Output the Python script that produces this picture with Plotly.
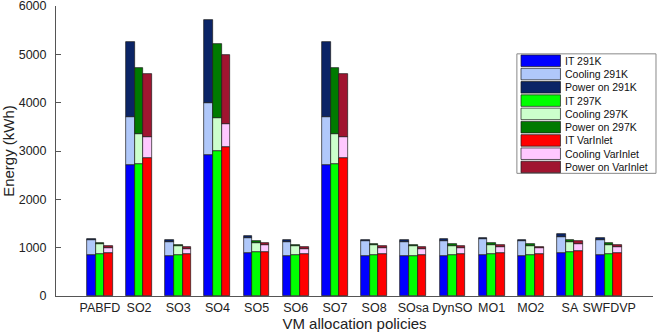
import numpy as np
import plotly.graph_objects as go

# VM allocation policies (x categories)
policies = ["PABFD", "SO2", "SO3", "SO4", "SO5", "SO6", "SO7", "SO8",
            "SOsa", "DynSO", "MO1", "MO2", "SA", "SWFDVP"]

# Energy components (kWh) for each inlet temperature setting
it_291 = [842, 2706, 828, 2926, 883, 828, 2706, 828, 821, 828, 855, 828, 897, 849]
cooling_291 = [311, 1000, 296, 1077, 311, 296, 1000, 304, 303, 311, 318, 311, 331, 310]
poweron_291 = [33, 1546, 35, 1718, 55, 35, 1546, 34, 35, 34, 35, 27, 62, 35]

it_297 = [876, 2740, 842, 2995, 911, 842, 2740, 849, 835, 842, 869, 842, 918, 869]
cooling_297 = [194, 621, 186, 683, 186, 186, 621, 200, 200, 200, 193, 200, 193, 193]
poweron_297 = [27, 1353, 34, 1533, 42, 34, 1353, 28, 27, 28, 35, 28, 55, 35]

it_var = [890, 2857, 869, 3085, 918, 862, 2857, 869, 855, 869, 890, 869, 932, 890]
cooling_var = [110, 428, 111, 469, 131, 118, 428, 125, 125, 125, 124, 125, 138, 124]
poweron_var = [41, 1311, 34, 1436, 41, 34, 1311, 34, 34, 34, 42, 27, 62, 42]

# (label, values, group index, colour)
series = [
    ("IT 291K", it_291, 0, "#0000FF"),
    ("Cooling 291K", cooling_291, 0, "#B0C8FA"),
    ("Power on 291K", poweron_291, 0, "#0B2466"),
    ("IT 297K", it_297, 1, "#00FF00"),
    ("Cooling 297K", cooling_297, 1, "#CCFFCC"),
    ("Power on 297K", poweron_297, 1, "#007A00"),
    ("IT VarInlet", it_var, 2, "#FF0000"),
    ("Cooling VarInlet", cooling_var, 2, "#FFC8FF"),
    ("Power on VarInlet", poweron_var, 2, "#A01530"),
]

bar_w = 0.22
idx = np.arange(len(policies))

fig = go.Figure()
for name, vals, grp, col in series:
    fig.add_trace(go.Bar(
        x=idx + (grp - 1) * bar_w,
        y=vals,
        width=bar_w,
        name=name,
        marker=dict(color=col, line=dict(color="#1a1a1a", width=0.7)),
        showlegend=False,
    ))

# hand-made legend box (MATLAB style, wide swatches)
lg_x0, lg_x1, lg_top, lg_bot = 0.772, 1.005, 0.835, 0.423
row_h = (lg_top - lg_bot) / len(series)
shapes = [dict(type="rect", xref="paper", yref="paper", x0=lg_x0, x1=lg_x1,
               y0=lg_bot, y1=lg_top, line=dict(color="#888888", width=1),
               fillcolor="white", layer="above")]
annotations = []
for k, (name, vals, grp, col) in enumerate(series):
    yt = lg_top - k * row_h - 0.004
    yb = yt - row_h + 0.006
    shapes.append(dict(type="rect", xref="paper", yref="paper", x0=0.7789, x1=0.845,
                       y0=yb, y1=yt, fillcolor=col,
                       line=dict(color="#1a1a1a", width=0.7), layer="above"))
    annotations.append(dict(xref="paper", yref="paper", x=0.849, y=(yt + yb) / 2,
                            text=name, showarrow=False, xanchor="left", yanchor="middle",
                            font=dict(size=10.5, color="#111111")))

fig.update_layout(
    width=664, height=334,
    barmode="relative",
    bargap=0,
    plot_bgcolor="white",
    paper_bgcolor="white",
    margin=dict(l=56, r=11, t=6, b=38),
    font=dict(family="Liberation Sans, Arial, sans-serif", size=12.5, color="#222222"),
    shapes=shapes,
    annotations=annotations,
    xaxis=dict(
        range=[-1.12, 13 + 1.12],
        tickvals=idx.tolist(),
        ticktext=policies,
        ticks="",
        showgrid=False,
        zeroline=False,
        showline=True,
        linecolor="#555555",
        linewidth=1,
        automargin=False,
        title=dict(text="VM allocation policies", standoff=4),
    ),
    yaxis=dict(
        range=[0, 6000.5],
        tickvals=[0, 1000, 2000, 3000, 4000, 5000, 6000],
        ticks="inside",
        ticklen=5,
        tickcolor="#555555",
        showgrid=False,
        zeroline=False,
        showline=True,
        linecolor="#555555",
        linewidth=1,
        automargin=False,
        ticklabelstandoff=6,
        ticklabeloverflow="allow",
        title=dict(text="Energy (kWh)", standoff=3),
    ),
)

# the page body has a default 8px margin; drop it so the figure sits at 0,0
fig.write_html("out.html", config={"displayModeBar": False},
               post_script="document.body.style.margin='0px';")
